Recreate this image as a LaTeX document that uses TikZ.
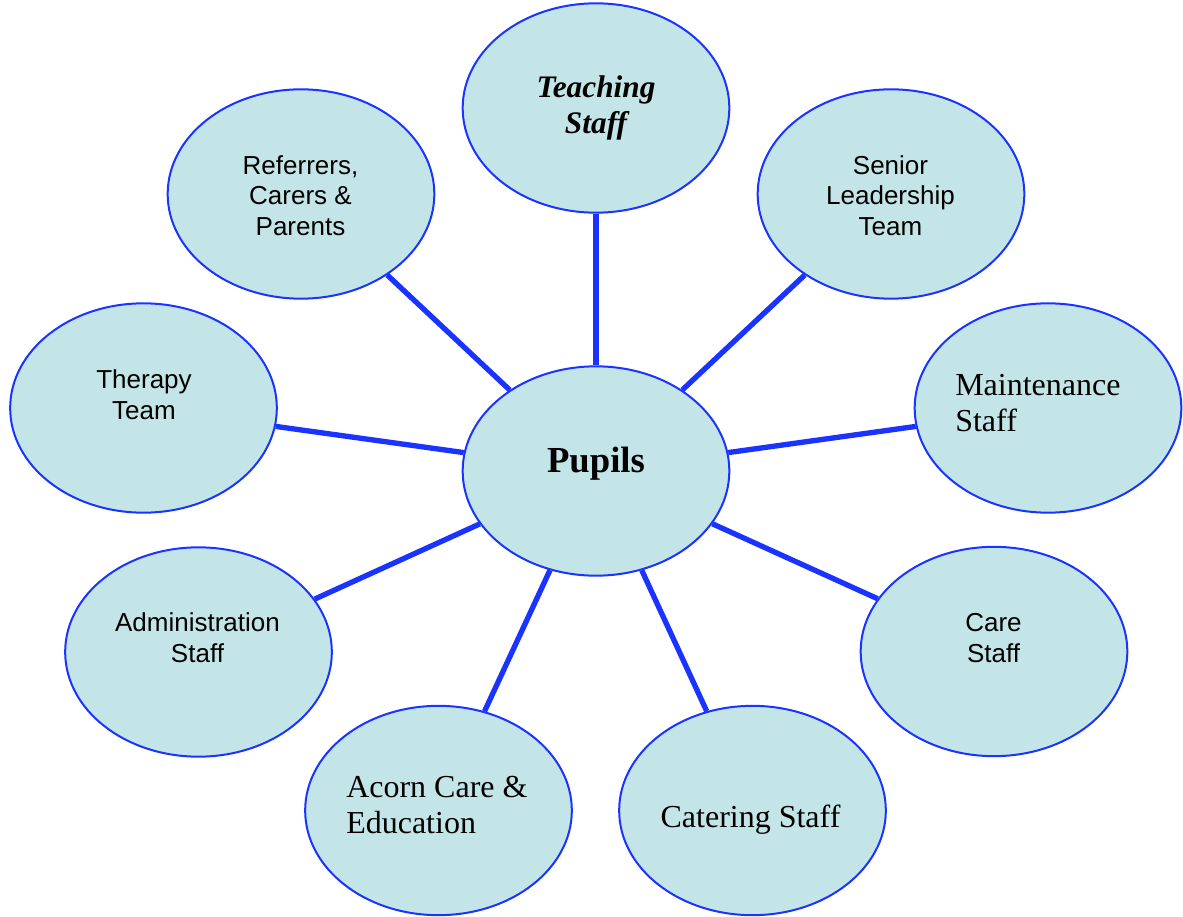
\documentclass[tikz,border=0pt]{standalone}
\usepackage{fontspec}
\setmainfont{Liberation Serif}
\setsansfont{Liberation Sans}
\usetikzlibrary{shapes.geometric}
\definecolor{bubblefill}{RGB}{196,229,232}
\definecolor{bubbleline}{RGB}{26,51,255}

\begin{document}
\begin{tikzpicture}[x=0.75pt, y=-0.75pt,
    bubble/.style={ellipse, draw=bubbleline, fill=bubblefill, line width=1.5pt, minimum width=200pt, minimum height=157pt, inner sep=0pt},
    sanstext/.style={font=\sffamily\fontsize{19.5}{23}\selectfont, align=center, inner sep=0pt},
    serftext/.style={font=\fontsize{24}{27.5}\selectfont, align=left, inner sep=0pt},
    spoke/.style={draw=bubbleline, line width=4pt}]
    \useasboundingbox (0,0) rectangle (1183,917);

    % bubbles
    \node[bubble] (pupils) at (596,471) {};
    \node[bubble] (teaching) at (596,108) {};
    \node[bubble] (referrers) at (301,194) {};
    \node[bubble] (senior) at (891,194) {};
    \node[bubble] (therapy) at (143.5,408) {};
    \node[bubble] (maintenance) at (1048,408) {};
    \node[bubble] (admin) at (198.5,652) {};
    \node[bubble] (care) at (994,651.5) {};
    \node[bubble] (acorn) at (438.5,810.5) {};
    \node[bubble] (catering) at (752.5,810.5) {};

    % texts
    \node[font=\bfseries\fontsize{27.5}{33}\selectfont, anchor=base, inner sep=0pt] (pupils-t) at (596,472) {Pupils};
    \node[font=\bfseries\itshape\fontsize{23.5}{27}\selectfont, align=center, inner sep=0pt] (teaching-t) at (596,107.5) {Teaching\\Staff};
    \node[sanstext] (referrers-t) at (300.5,195.5) {Referrers,\\Carers \&\\Parents};
    \node[sanstext] (senior-t) at (890.5,195.5) {Senior\\Leadership\\Team};
    \node[sanstext] (therapy-t) at (144,395) {Therapy\\Team};
    \node[sanstext] (admin-t) at (197.5,638) {Administration\\Staff};
    \node[sanstext] (care-t) at (993.5,638) {Care\\Staff};
    \node[serftext, anchor=west] (maintenance-t) at (955,403) {Maintenance\\Staff};
    \node[serftext, anchor=west] (acorn-t) at (346,805) {Acorn Care \&\\Education};
    \node[serftext, anchor=base] (catering-t) at (750.5,827) {Catering Staff};

    \foreach \n in {teaching, referrers, senior, therapy, maintenance, admin, care, acorn, catering}
      \draw[spoke] (pupils) -- (\n);
\end{tikzpicture}
\end{document}
